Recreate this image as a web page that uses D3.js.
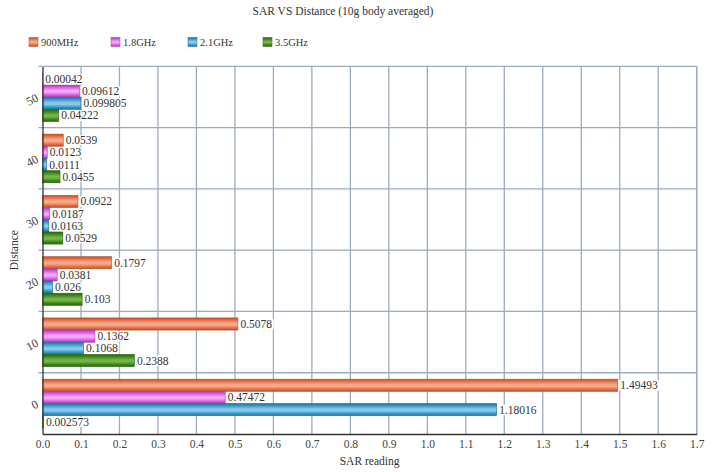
<!DOCTYPE html>
<html><head><meta charset="utf-8">
<script src="https://cdn.jsdelivr.net/npm/d3@7/dist/d3.min.js"></script>
<style>body{margin:0;background:#fff}text{font-family:"Liberation Serif","DejaVu Serif",serif}</style>
</head><body><svg id="c" width="715" height="472"></svg>
<script>
const distances = ["0","10","20","30","40","50"];
const seriesNames = ["900MHz","1.8GHz","2.1GHz","3.5GHz"];
const s900 = [1.49493, 0.5078, 0.1797, 0.0922, 0.0539, 0.00042];
const s18 = [0.47472, 0.1362, 0.0381, 0.0187, 0.0123, 0.09612];
const s21 = [1.18016, 0.1068, 0.026, 0.0163, 0.0111, 0.099805];
const s35 = [0.002573, 0.2388, 0.103, 0.0529, 0.0455, 0.04222];
const labels900 = ["1.49493","0.5078","0.1797","0.0922","0.0539","0.00042"];
const labels18 = ["0.47472","0.1362","0.0381","0.0187","0.0123","0.09612"];
const labels21 = ["1.18016","0.1068","0.026","0.0163","0.0111","0.099805"];
const labels35 = ["0.002573","0.2388","0.103","0.0529","0.0455","0.04222"];
const xTicks = d3.range(0, 18).map(i => i / 10);

const values = [s900, s18, s21, s35];
const labs = [labels900, labels18, labels21, labels35];
const colors = [
  {base:"#e8744a", light:"#f6a98a", dark:"#b8502c"},
  {base:"#dd5fe6", light:"#f2a6f4", dark:"#a83cb0"},
  {base:"#3a9bcb", light:"#86c9e8", dark:"#1f6f98"},
  {base:"#3f8a1c", light:"#74b548", dark:"#2a6510"}
];

const svg = d3.select("#c");
const defs = svg.append("defs");
colors.forEach((c, i) => {
  const g = defs.append("linearGradient").attr("id", "g" + i)
    .attr("x1", 0).attr("y1", 0).attr("x2", 0).attr("y2", 1);
  [[0, c.dark],[0.2, c.base],[0.45, c.light],[0.6, c.light],[0.8, c.base],[1, c.dark]]
    .forEach(s => g.append("stop").attr("offset", s[0]).attr("stop-color", s[1]));
});

const L = 42.5, R = 696.7, T = 66.4, B = 434;
const x = d3.scaleLinear().domain([0, 1.7]).range([L, R]);
const y0 = d3.scaleBand().domain(distances.slice().reverse()).range([T, B]);
const bw = y0.bandwidth();
const y1 = d3.scaleBand().domain(d3.range(4)).range([bw * 0.105, bw * 0.9]);

// title
svg.append("text").attr("x", 343).attr("y", 15).attr("text-anchor", "middle")
  .attr("font-size", 11.5).attr("fill", "#333").text("SAR VS Distance (10g body averaged)");

// legend
const legX = [29, 111, 188, 263];
seriesNames.forEach((n, i) => {
  svg.append("rect").attr("x", legX[i]).attr("y", 37.5).attr("width", 9).attr("height", 9)
    .attr("fill", "url(#g" + i + ")").attr("stroke", colors[i].dark).attr("stroke-width", 0.5);
  svg.append("text").attr("x", legX[i] + 12).attr("y", 46).attr("font-size", 10.5)
    .attr("fill", "#333").text(n);
});

// grid verticals
const grid = svg.append("g");
grid.selectAll("line.v").data(xTicks.slice(1)).join("line")
  .attr("x1", d => x(d)).attr("x2", d => x(d)).attr("y1", T).attr("y2", B)
  .attr("stroke", "#9dabc0").attr("stroke-width", 1.3);
// horizontal band boundaries
const bounds = distances.slice().reverse().map(d => y0(d));
grid.selectAll("line.h").data(bounds).join("line")
  .attr("x1", L - 4).attr("x2", R).attr("y1", d => d).attr("y2", d => d)
  .attr("stroke", "#9dabc0").attr("stroke-width", 1.3);
grid.append("line").attr("x1", R).attr("x2", R).attr("y1", T).attr("y2", B)
  .attr("stroke", "#9dabc0").attr("stroke-width", 1.3);

// bars
const gBars = svg.append("g");
distances.forEach((d, di) => {
  values.forEach((vals, si) => {
    gBars.append("rect")
      .attr("x", x(0)).attr("y", y0(d) + y1(si))
      .attr("width", Math.max(0, x(vals[di]) - x(0))).attr("height", y1.bandwidth())
      .attr("fill", "url(#g" + si + ")").attr("stroke", colors[si].dark).attr("stroke-width", 0.6);
  });
});

// labels
const gLab = svg.append("g");
distances.forEach((d, di) => {
  values.forEach((vals, si) => {
    const tx = x(vals[di]) + 2.5;
    const ty = y0(d) + y1(si) + y1.bandwidth() / 2;
    const t = gLab.append("text").attr("x", tx).attr("y", ty + 4).attr("font-size", 11.5)
      .attr("fill", "#333").text(labs[si][di]);
    const bb = t.node().getBBox();
    gLab.insert("rect", function(){ return t.node(); })
      .attr("x", bb.x - 1.5).attr("y", bb.y + 1).attr("width", bb.width + 3).attr("height", bb.height - 1.5)
      .attr("fill", "#fff");
  });
});

// axes
const xAxis = svg.append("g").attr("transform", `translate(0,${B})`)
  .call(d3.axisBottom(x).tickValues(xTicks).tickFormat(d3.format(".1f")).tickSize(0).tickPadding(6));
xAxis.select(".domain").attr("stroke", "#333").attr("stroke-width", 1.3);
xAxis.selectAll("text").attr("font-size", 11.5).attr("fill", "#444")
  .style("font-family", "Liberation Serif, serif");

const yAxis = svg.append("g").attr("transform", `translate(${L},0)`)
  .call(d3.axisLeft(y0).tickSize(0).tickPadding(5));
yAxis.select(".domain").attr("stroke", "#333").attr("stroke-width", 1.3);
yAxis.selectAll("text").attr("font-size", 12).attr("fill", "#444")
  .style("font-family", "Liberation Serif, serif")
  .attr("transform", function(){ return "rotate(-28," + (-5) + ",0)"; });

// axis titles
svg.append("text").attr("x", (L + R) / 2).attr("y", 465).attr("text-anchor", "middle")
  .attr("font-size", 11.5).attr("fill", "#333").text("SAR reading");
svg.append("text").attr("transform", `translate(18,${(T + B) / 2}) rotate(-90)`)
  .attr("text-anchor", "middle").attr("font-size", 11.5).attr("fill", "#333").text("Distance");
</script></body></html>
